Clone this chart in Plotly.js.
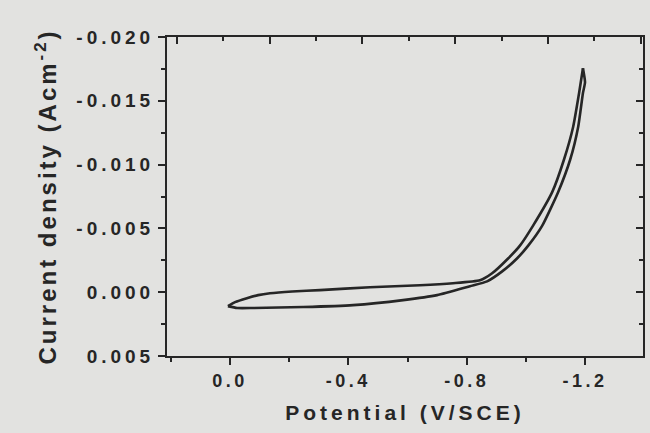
<!DOCTYPE html>
<html>
<head>
<meta charset="utf-8">
<script src="https://cdn.plot.ly/plotly-3.0.1.min.js"></script>
<style>
  html, body { margin: 0; padding: 0; background: #e2e2e0; }
  #chart { width: 650px; height: 433px; }
  .xtick text { letter-spacing: 3.5px; }
  .ytick text { letter-spacing: 4px; }
  .xtitle { letter-spacing: 4px; }
  .ytitle { letter-spacing: 3px; }
</style>
</head>
<body>
<div id="chart"></div>
<script>
// Cathodic sweep (0 V -> -1.2 V vs SCE)
const potentialForward = [0.007, -0.017, -0.057, -0.095, -0.135, -0.210, -0.304, -0.473, -0.642, -0.754, -0.845, -0.886,
  -0.940, -0.980, -1.024, -1.089, -1.129, -1.160, -1.180, -1.193];
const currentForward = [0.00109, 0.00078, 0.00047, 0.00023, 0.00008, -0.00006, -0.00016, -0.00039, -0.00054, -0.00070, -0.00093, -0.00148,
  -0.00264, -0.00365, -0.00520, -0.00784, -0.01040, -0.01297, -0.01561, -0.01755];
// Reverse sweep (-1.2 V -> 0 V vs SCE)
const potentialReverse = [-1.193, -1.200, -1.193, -1.177, -1.150, -1.109, -1.055, -1.008, -0.970, -0.920, -0.869,
  -0.811, -0.700, -0.585, -0.416, -0.247, -0.078, -0.024, 0.007];
const currentReverse = [-0.01755, -0.01646, -0.01561, -0.01297, -0.01040, -0.00784, -0.00520, -0.00365, -0.00264, -0.00163, -0.00085,
  -0.00047, 0.00023, 0.00062, 0.00101, 0.00116, 0.00124, 0.00124, 0.00109];

const xTickVals = [0.0, -0.4, -0.8, -1.2];
const xTickText = ["0.0", "-0.4", "-0.8", "-1.2"];
const yTickVals = [-0.020, -0.015, -0.010, -0.005, 0.000, 0.005];
const yTickText = ["-0.020", "-0.015", "-0.010", "-0.005", "0.000", "0.005"];

const ink = '#262626';
const lineStyle = {color: ink, width: 2.6, shape: 'spline', smoothing: 0.5};

const traces = [
  {x: potentialForward, y: currentForward, type: 'scatter', mode: 'lines', line: lineStyle, showlegend: false, hoverinfo: 'skip'},
  {x: potentialReverse, y: currentReverse, type: 'scatter', mode: 'lines', line: lineStyle, showlegend: false, hoverinfo: 'skip'},
  {x: [], y: [], xaxis: 'x2', yaxis: 'y2', type: 'scatter', mode: 'lines', showlegend: false, hoverinfo: 'skip'}
];

const fam = 'Liberation Sans, Arial, sans-serif';
const layout = {
  width: 650, height: 433,
  paper_bgcolor: '#e2e2e0', plot_bgcolor: '#e2e2e0',
  margin: {l: 167, r: 7, t: 37, b: 77},
  showlegend: false,
  xaxis: {
    range: [0.213, -1.396], tickmode: 'array', tickvals: xTickVals, ticktext: xTickText,
    ticks: 'outside', ticklen: 7, tickwidth: 2, tickcolor: ink,
    minor: {tickmode: 'linear', tick0: 0, dtick: 0.2, ticks: 'outside', ticklen: 4, tickwidth: 2, tickcolor: ink},
    showline: true, linecolor: ink, linewidth: 2, mirror: true,
    showgrid: false, zeroline: false,
    tickfont: {family: fam, size: 18, color: ink, weight: 'bold'},
    title: {text: 'Potential (V/SCE)', font: {family: fam, size: 21, color: ink, weight: 'bold'}, standoff: 16}
  },
  yaxis: {
    range: [0.005, -0.020], tickmode: 'array', tickvals: yTickVals, ticktext: yTickText,
    ticks: 'outside', ticklen: 7, tickwidth: 2, tickcolor: ink,
    minor: {tickmode: 'linear', tick0: 0, dtick: 0.0025, ticks: 'outside', ticklen: 4, tickwidth: 2, tickcolor: ink},
    showline: true, linecolor: ink, linewidth: 2, mirror: true,
    showgrid: false, zeroline: false,
    tickfont: {family: fam, size: 19, color: ink, weight: 'bold'},
    title: {text: 'Current density (Acm<sup>-2</sup>)', font: {family: fam, size: 24, color: ink, weight: 'bold'}, standoff: 13}
  },
  xaxis2: {
    overlaying: 'x', side: 'top', anchor: 'y', range: [0, 10.26],
    tickmode: 'linear', tick0: 0.21, dtick: 2, ticks: 'inside', ticklen: 7, tickwidth: 2, tickcolor: ink,
    minor: {tickmode: 'linear', tick0: 0.21, dtick: 1, ticks: 'inside', ticklen: 4, tickwidth: 2, tickcolor: ink},
    showticklabels: false, showline: false, showgrid: false, zeroline: false
  },
  yaxis2: {
    overlaying: 'y', side: 'right', anchor: 'x', range: [0.005, -0.020],
    tickmode: 'linear', tick0: 0, dtick: 0.005, ticks: 'inside', ticklen: 7, tickwidth: 2, tickcolor: ink,
    minor: {tickmode: 'linear', tick0: 0, dtick: 0.0025, ticks: 'inside', ticklen: 4, tickwidth: 2, tickcolor: ink},
    showticklabels: false, showline: false, showgrid: false, zeroline: false
  }
};

Plotly.newPlot('chart', traces, layout, {staticPlot: true, displayModeBar: false});
</script>
</body>
</html>
